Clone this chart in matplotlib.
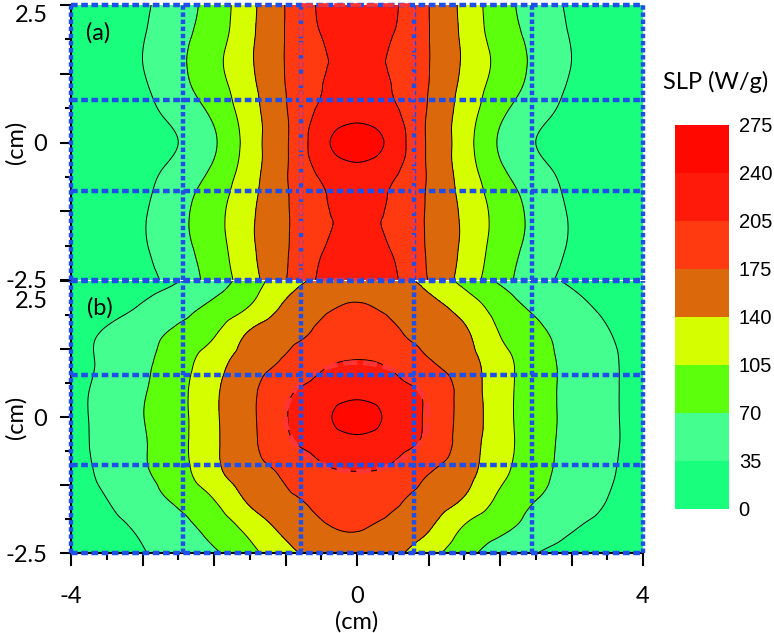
import numpy as np
import matplotlib
matplotlib.use("Agg")
import matplotlib.pyplot as plt
import matplotlib.tri as mtri
import matplotlib.transforms as mtrans
from matplotlib.patches import Ellipse, Rectangle

plt.rcParams['font.family'] = ['Lato', 'DejaVu Sans']

# grid of positions (cm)
x_cm = [-4, -3.5, -3, -2.5, -2, -1.5, -1, -0.5, 0, 0.5, 1, 1.5, 2, 2.5, 3, 3.5, 4]
y_cm = [2.5, 2, 1.5, 1, 0.5, 0, -0.5, -1, -1.5, -2, -2.5]

# SLP (W/g), rows top -> bottom
slp_a = [
    [10, 18, 30, 54, 85, 130, 176, 210, 228, 210, 176, 130, 85, 54, 30, 18, 10],
    [11, 20, 33, 58, 89, 132, 176, 206, 222, 206, 176, 132, 89, 58, 33, 20, 11],
    [12, 21, 35, 62, 96, 135, 176, 200, 218, 200, 176, 135, 96, 62, 35, 21, 12],
    [11, 19, 31, 58, 90, 130, 175, 204, 226, 204, 175, 130, 90, 58, 31, 19, 11],
    [8, 14, 25, 45, 76, 124, 172, 213, 232, 213, 172, 124, 76, 45, 25, 14, 8],
    [5, 10, 18, 35, 66, 121, 171, 227, 258, 227, 171, 121, 66, 35, 18, 10, 5],
    [8, 14, 25, 45, 76, 124, 172, 212, 232, 212, 172, 124, 76, 45, 25, 14, 8],
    [10, 18, 30, 56, 90, 130, 172, 200, 222, 200, 172, 130, 90, 56, 30, 18, 10],
    [11, 20, 33, 60, 94, 134, 172, 197, 214, 197, 172, 134, 94, 60, 33, 20, 11],
    [10, 19, 31, 56, 89, 132, 172, 204, 220, 204, 172, 132, 89, 56, 31, 19, 10],
    [8, 15, 25, 49, 84, 126, 174, 210, 228, 210, 174, 126, 84, 49, 25, 15, 8],
]

# SLP (W/g), rows top -> bottom
slp_b = [
    [10, 15, 22, 34, 57, 87, 125, 149, 165, 150, 132, 94, 66, 47, 30, 20, 13],
    [18, 25, 39, 58, 79, 108, 147, 170, 178, 169, 152, 127, 90, 65, 46, 30, 22],
    [26, 39, 57, 78, 103, 146, 167, 181, 192, 181, 166, 147, 105, 78, 56, 37, 26],
    [24, 42, 64, 89, 126, 158, 179, 199, 207, 199, 178, 155, 119, 85, 61, 41, 24],
    [25, 45, 67, 94, 134, 167, 199, 216, 228, 216, 199, 162, 120, 85, 61, 41, 24],
    [25, 46, 69, 95, 134, 169, 203, 230, 255, 229, 200, 163, 120, 85, 61, 41, 24],
    [25, 45, 67, 94, 134, 167, 199, 216, 228, 216, 198, 160, 120, 85, 60, 41, 24],
    [24, 43, 66, 91, 131, 161, 180, 199, 205, 199, 177, 153, 115, 82, 58, 39, 24],
    [24, 35, 55, 77, 106, 147, 170, 183, 192, 181, 163, 138, 98, 71, 53, 35, 24],
    [20, 28, 41, 60, 84, 118, 151, 172, 178, 167, 145, 104, 79, 58, 39, 27, 19],
    [15, 22, 33, 49, 66, 94, 131, 151, 165, 149, 118, 82, 57, 36, 24, 16, 11],
]

levels = [0, 35, 70, 105, 140, 175, 205, 240, 275]
colors = ['#19FF7D', '#44FF90', '#5CFF0C', '#D5FF00',
          '#DB690C', '#FF3A10', '#FF1A0A', '#FF0800']

# blue dotted grid lines
grid_x = [-4, -2.43, -0.78, 0.8, 2.45, 4]
grid_y = [2.5, 0.78, -0.88, -2.5]

blue = '#1F4FE8'
red = '#FF3535'


def grid_triangulation(xs, ys):
    # split each cell along the diagonal that points to the centre
    nx, ny = len(xs), len(ys)
    X, Y = np.meshgrid(xs, ys)
    tris = []
    for j in range(ny - 1):
        for i in range(nx - 1):
            a = j * nx + i
            b, c = a + 1, a + nx
            d = c + 1
            cx = (xs[i] + xs[i + 1]) / 2
            cy = (ys[j] + ys[j + 1]) / 2
            s = (xs[i + 1] - xs[i]) * (ys[j + 1] - ys[j])
            if s * cx * cy >= 0:
                tris += [[a, b, d], [a, d, c]]
            else:
                tris += [[a, b, c], [b, d, c]]
    return mtri.Triangulation(X.ravel(), Y.ravel(), np.array(tris))


fig = plt.figure(figsize=(7.74, 6.33), dpi=100)
ax_a = fig.add_axes([71/774, 1-280/633, 572/774, 275/633])
ax_b = fig.add_axes([71/774, 1-553/633, 572/774, 272/633])
cax = fig.add_axes([675/774, 1-509/633, 54/774, 384/633])

tri = grid_triangulation(x_cm, y_cm)
refiner = mtri.UniformTriRefiner(tri)

cs = None
for ax, slp in [(ax_a, slp_a), (ax_b, slp_b)]:
    z = np.array(slp, dtype=float).ravel()
    tri_f, z_f = refiner.refine_field(z, subdiv=4)
    z_f = np.clip(z_f, 0.5, 274.5)
    cs = ax.tricontourf(tri_f, z_f, levels=levels, colors=colors)
    ax.tricontour(tri_f, z_f, levels=levels[1:-1], colors='k', linewidths=0.7)
    ax.set_xlim(-4, 4)
    ax.set_ylim(-2.5, 2.5)

    for gx in grid_x:
        ax.plot([gx, gx], [-2.5, 2.5], color=blue, lw=3.2,
                linestyle=(0, (1.0, 0.6)), clip_on=False, zorder=5)
    for gy in grid_y:
        ax.plot([-4, 4], [gy, gy], color=blue, lw=3.2,
                linestyle=(0, (1.5, 0.8)), clip_on=False, zorder=5)

    for s in ['top', 'right']:
        ax.spines[s].set_visible(False)
    ax.spines['left'].set_linewidth(1.5)
    ax.spines['bottom'].set_linewidth(1.5)

    ax.set_yticks([-2.5, -1.25, 0, 1.25, 2.5])
    ax.set_yticklabels(['-2.5', '', '0', '', '2.5'], fontsize=17)
    ax.set_yticks(np.arange(-2.5, 2.6, 0.625), minor=True)
    ax.tick_params(axis='y', which='major', length=8, width=1.5, pad=9)
    ax.tick_params(axis='y', which='minor', length=4, width=1.5)
    ax.set_ylabel('(cm)', fontsize=17)
    ax.yaxis.set_label_coords(-0.078, 0.5)

# red dashed outlines of the sample region
ax_a.add_patch(Rectangle((-0.78, -2.5), 1.56, 5.0, fill=False, ec=red,
                         lw=2.6, linestyle=(0, (3, 1.5)), zorder=6, clip_on=False))
ax_b.add_patch(Ellipse((0, 0), 2.0, 2.0, fill=False, ec=red,
                       lw=3.4, linestyle=(0, (3, 1.2)), zorder=4))

ax_a.spines['bottom'].set_visible(False)
ax_a.set_xticks([])

ax_b.set_xticks(np.arange(-4, 4.1, 1))
ax_b.set_xticklabels(['-4', '', '', '', '0', '', '', '', '4'], fontsize=17)
ax_b.set_xticks(np.arange(-4, 4.1, 0.5), minor=True)
ax_b.tick_params(axis='x', which='major', length=9, width=1.5, pad=15)
ax_b.tick_params(axis='x', which='minor', length=5, width=1.5)
ax_b.set_xlabel('(cm)', fontsize=17)
ax_b.xaxis.set_label_coords(0.5, -0.215)

# shift the crowded 2.5 labels down a little
for ax, dy in [(ax_a, -0.08), (ax_b, -0.19)]:
    lab = ax.get_yticklabels()[4]
    lab.set_transform(lab.get_transform() +
                      mtrans.ScaledTranslation(0, dy, fig.dpi_scale_trans))

ax_a.text(0.026, 0.898, '(a)', transform=ax_a.transAxes, fontsize=17, va='center')
ax_b.text(0.028, 0.90, '(b)', transform=ax_b.transAxes, fontsize=17, va='center')

cbar = fig.colorbar(cs, cax=cax, ticks=levels)
cbar.outline.set_visible(False)
cbar.ax.tick_params(length=0, pad=7)
cbar.ax.set_yticklabels([str(v) for v in levels], fontsize=14.5,
                        family='Liberation Sans')
fig.text(716/774, 1-82/633, 'SLP (W/g)', fontsize=17, ha='center', va='center')

fig.savefig('out.png', dpi=100)
